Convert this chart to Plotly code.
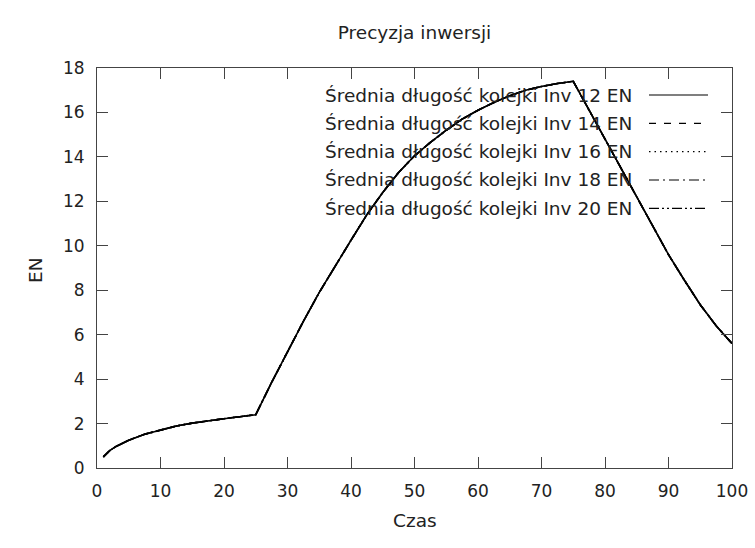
import plotly.graph_objects as go

# ---- data ----
czas = [1, 2, 3, 4, 5, 7.5, 10, 12.5, 15, 17.5, 20, 22.5, 25,
        27.5, 30, 32.5, 35, 37.5, 40, 42.5, 45, 47.5, 50, 52.5, 55,
        57.5, 60, 62.5, 65, 67.5, 70, 72.5, 75,
        77.5, 80, 82.5, 85, 87.5, 90, 92.5, 95, 97.5, 100]

en_inv12 = [0.5, 0.78, 0.97, 1.12, 1.25, 1.52, 1.72, 1.89, 2.02, 2.13, 2.22, 2.31, 2.4,
            3.85, 5.25, 6.6, 7.9, 9.1, 10.25, 11.4, 12.4, 13.3, 14.05, 14.65, 15.2,
            15.7, 16.1, 16.45, 16.75, 17.0, 17.17, 17.3, 17.4,
            16.1, 14.8, 13.5, 12.2, 10.9, 9.6, 8.45, 7.35, 6.4, 5.6]
en_inv14 = list(en_inv12)
en_inv16 = list(en_inv12)
en_inv18 = list(en_inv12)
en_inv20 = list(en_inv12)

series_names = ["Średnia długość kolejki Inv 12 EN",
                "Średnia długość kolejki Inv 14 EN",
                "Średnia długość kolejki Inv 16 EN",
                "Średnia długość kolejki Inv 18 EN",
                "Średnia długość kolejki Inv 20 EN"]
series_values = [en_inv12, en_inv14, en_inv16, en_inv18, en_inv20]
dash_styles = ["solid", "7px,8px", "1.5px,4px", "10px,4px,2px,4px", "10px,3px,2px,3px,2px,3px"]

x_ticks = [0, 10, 20, 30, 40, 50, 60, 70, 80, 90, 100]
y_ticks = [0, 2, 4, 6, 8, 10, 12, 14, 16, 18]

FONT = "DejaVu Sans"
TXT = "#222222"
FRAME = "#444444"
FS_TICK = 17
FS_TEXT = 18.5

W, H = 755, 548
# plot box in page pixels: x 97..732, y 68..468
L, T = 97, 68
R = W - 732
B = H - 468
plot_w = W - L - R
plot_h = H - T - B


def px_to_paper_x(px):
    return (px - L) / plot_w


def px_to_paper_y(py):
    return (H - B - py) / plot_h


fig = go.Figure()
for name, vals, dash in reversed(list(zip(series_names, series_values, dash_styles))):
    fig.add_trace(go.Scatter(x=czas, y=vals, mode="lines", name=name,
                             line=dict(color="black", width=1.6, dash=dash),
                             showlegend=False, hoverinfo="skip"))

# gnuplot-style key: right-justified text followed by the line sample
row0, row_gap = 95, 28.33
text_right, samp_x0, samp_x1 = 634, 649, 708
for i, (name, dash) in enumerate(zip(series_names, dash_styles)):
    yp = px_to_paper_y(row0 + i * row_gap)
    fig.add_annotation(x=px_to_paper_x(text_right), y=yp, xref="paper", yref="paper",
                       text=name, showarrow=False, xanchor="right", yanchor="middle",
                       font=dict(family=FONT, size=FS_TEXT, color=TXT))
    fig.add_shape(type="line", xref="paper", yref="paper",
                  x0=px_to_paper_x(samp_x0), x1=px_to_paper_x(samp_x1), y0=yp, y1=yp,
                  line=dict(color="black", width=1.2, dash=dash))

fig.add_annotation(x=0.5, y=px_to_paper_y(520), xref="paper", yref="paper",
                   text="Czas", showarrow=False, xanchor="center", yanchor="middle",
                   font=dict(family=FONT, size=FS_TEXT, color=TXT))
fig.add_annotation(x=px_to_paper_x(35), y=px_to_paper_y(270), xref="paper", yref="paper",
                   text="EN", showarrow=False, textangle=-90, xanchor="center", yanchor="middle",
                   font=dict(family=FONT, size=FS_TEXT, color=TXT))

axis_common = dict(showgrid=False, zeroline=False, showline=True, linecolor=FRAME,
                   linewidth=1, mirror="ticks", ticks="inside", ticklen=11,
                   tickcolor=FRAME, tickwidth=1, automargin=False,
                   tickfont=dict(family=FONT, size=FS_TICK, color=TXT))

fig.update_layout(
    width=W, height=H,
    margin=dict(l=L, r=R, t=T, b=B, autoexpand=False),
    paper_bgcolor="white", plot_bgcolor="white",
    title=dict(text="Precyzja inwersji", x=(L + plot_w / 2) / W, xanchor="center",
               y=1 - 33 / H, yanchor="middle",
               font=dict(family=FONT, size=FS_TEXT, color=TXT)),
    xaxis=dict(range=[0, 100], tickvals=x_ticks, ticktext=[str(v) for v in x_ticks],
               ticklabelstandoff=8, **axis_common),
    yaxis=dict(range=[0, 18], tickvals=y_ticks, ticktext=[str(v) for v in y_ticks],
               ticklabelstandoff=8, **axis_common),
    showlegend=False,
    hovermode=False,
)

# remove the default 8px page margin so the figure fills the window exactly
fig.write_html("out.html", config={"displayModeBar": False, "staticPlot": True},
               post_script="document.body.style.margin='0';document.body.style.overflow='hidden';")
